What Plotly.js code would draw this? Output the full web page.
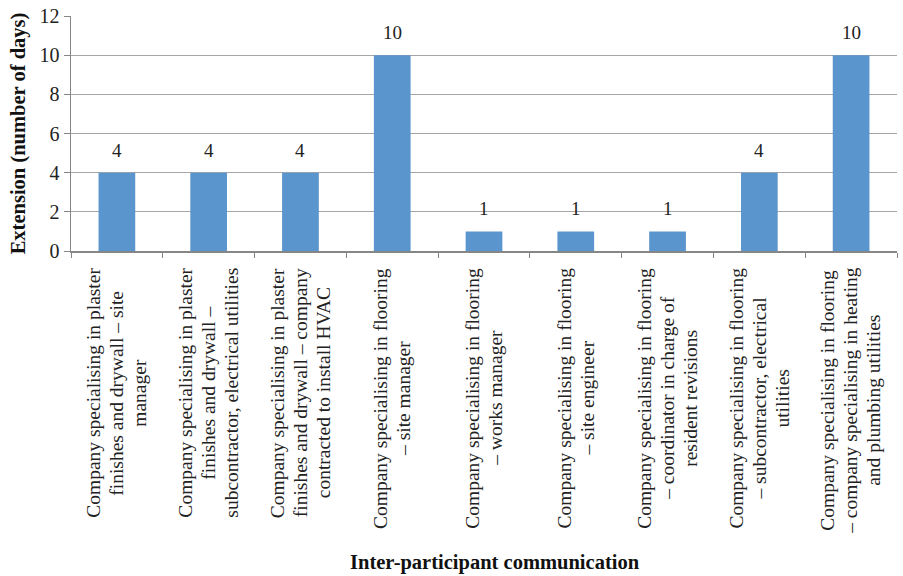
<!DOCTYPE html>
<html><head><meta charset="utf-8">
<script src="https://cdn.plot.ly/plotly-3.0.1.min.js"></script>
<style>html,body{margin:0;padding:0;background:#fff}#chart{width:903px;height:576px}</style>
</head><body><div id="chart"></div>
<script>
const categories = [
  "Company specialising in plaster finishes and drywall – site manager",
  "Company specialising in plaster finishes and drywall – subcontractor, electrical utilities",
  "Company specialising in plaster finishes and drywall – company contracted to install HVAC",
  "Company specialising in flooring – site manager",
  "Company specialising in flooring – works manager",
  "Company specialising in flooring – site engineer",
  "Company specialising in flooring – coordinator in charge of resident revisions",
  "Company specialising in flooring – subcontractor, electrical utilities",
  "Company specialising in flooring – company specialising in heating and plumbing utilities"
];
const categoryLines = [
  ["Company specialising in plaster", "finishes and drywall – site", "manager"],
  ["Company specialising in plaster", "finishes and drywall –", "subcontractor, electrical utilities"],
  ["Company specialising in plaster", "finishes and drywall – company", "contracted to install HVAC"],
  ["Company specialising in flooring", "– site manager"],
  ["Company specialising in flooring", "– works manager"],
  ["Company specialising in flooring", "– site engineer"],
  ["Company specialising in flooring", "– coordinator in charge of", "resident revisions"],
  ["Company specialising in flooring", "– subcontractor, electrical", "utilities"],
  ["Company specialising in flooring", "– company specialising in heating", "and plumbing utilities"]
];
const extensionDays = [4, 4, 4, 10, 1, 1, 1, 4, 10];
const yTicks = [0, 2, 4, 6, 8, 10, 12];
const yTitle = "Extension (number of days)";
const xTitle = "Inter-participant communication";

const FONT = "'Liberation Serif', 'Times New Roman', serif";
const LABEL_SIZE = 19.5;
const LINE_GAP = 23;
const MARGIN = {l: 71, r: 6, t: 16, b: 325};
const PLOT_H = 576 - MARGIN.t - MARGIN.b;

const trace = {
  type: "bar",
  x: categories,
  y: extensionDays,
  marker: {color: "#5b95cd"},
  hoverinfo: "none"
};

// measure text to centre multi-line rotated labels
const cv = document.createElement("canvas").getContext("2d");
cv.font = LABEL_SIZE + "px 'Liberation Serif'";

const annotations = [];
categories.forEach((c, ci) => {
  const lines = categoryLines[ci];
  const w = Math.max(...lines.map(s => cv.measureText(s).width));
  const centrePx = 17 + w / 2; // px below axis
  const yPaper = -centrePx / PLOT_H;
  lines.forEach((s, li) => {
    annotations.push({
      x: c, xref: "x", y: yPaper, yref: "paper",
      xanchor: "center", yanchor: "middle",
      xshift: (li - (lines.length - 1) / 2) * LINE_GAP,
      text: s, showarrow: false, textangle: -90,
      font: {family: FONT, size: LABEL_SIZE, color: "#222"}
    });
  });
});

extensionDays.forEach((v, i) => {
  annotations.push({
    x: categories[i], xref: "x", y: v, yref: "y",
    yanchor: "bottom", xanchor: "center", yshift: 10,
    text: String(v), showarrow: false,
    font: {family: FONT, size: 19, color: "#222"}
  });
});

annotations.push({
  x: 0.513, xref: "paper", y: -(562 - (576 - MARGIN.b)) / PLOT_H, yref: "paper",
  text: "<b>" + xTitle + "</b>", showarrow: false,
  xanchor: "center", yanchor: "middle",
  font: {family: FONT, size: 20.5, color: "#111"}
});

const layout = {
  width: 903, height: 576,
  margin: MARGIN,
  paper_bgcolor: "#fff", plot_bgcolor: "#fff",
  showlegend: false,
  bargap: 0.6,
  font: {family: FONT, color: "#222"},
  xaxis: {
    type: "category",
    categoryorder: "array", categoryarray: categories,
    showticklabels: false,
    tickson: "boundaries",
    ticks: "outside", ticklen: 5, tickcolor: "#868686", tickwidth: 1,
    showline: true, linecolor: "#868686", linewidth: 1.5,
    showgrid: false,
    automargin: false
  },
  yaxis: {
    range: [0, 12],
    tickvals: yTicks, ticktext: yTicks.map(String),
    ticks: "outside", ticklen: 6, tickcolor: "#868686",
    showline: true, linecolor: "#868686", linewidth: 1.5,
    showgrid: true, gridcolor: "#a6a6a6", gridwidth: 1,
    zeroline: false,
    tickfont: {family: FONT, size: 20, color: "#222"},
    title: {text: "<b>" + yTitle + "</b>", font: {family: FONT, size: 20.5, color: "#111"}, standoff: 8},
    automargin: false
  },
  annotations: annotations
};

Plotly.newPlot("chart", [trace], layout, {displayModeBar: false, staticPlot: true});
</script></body></html>
